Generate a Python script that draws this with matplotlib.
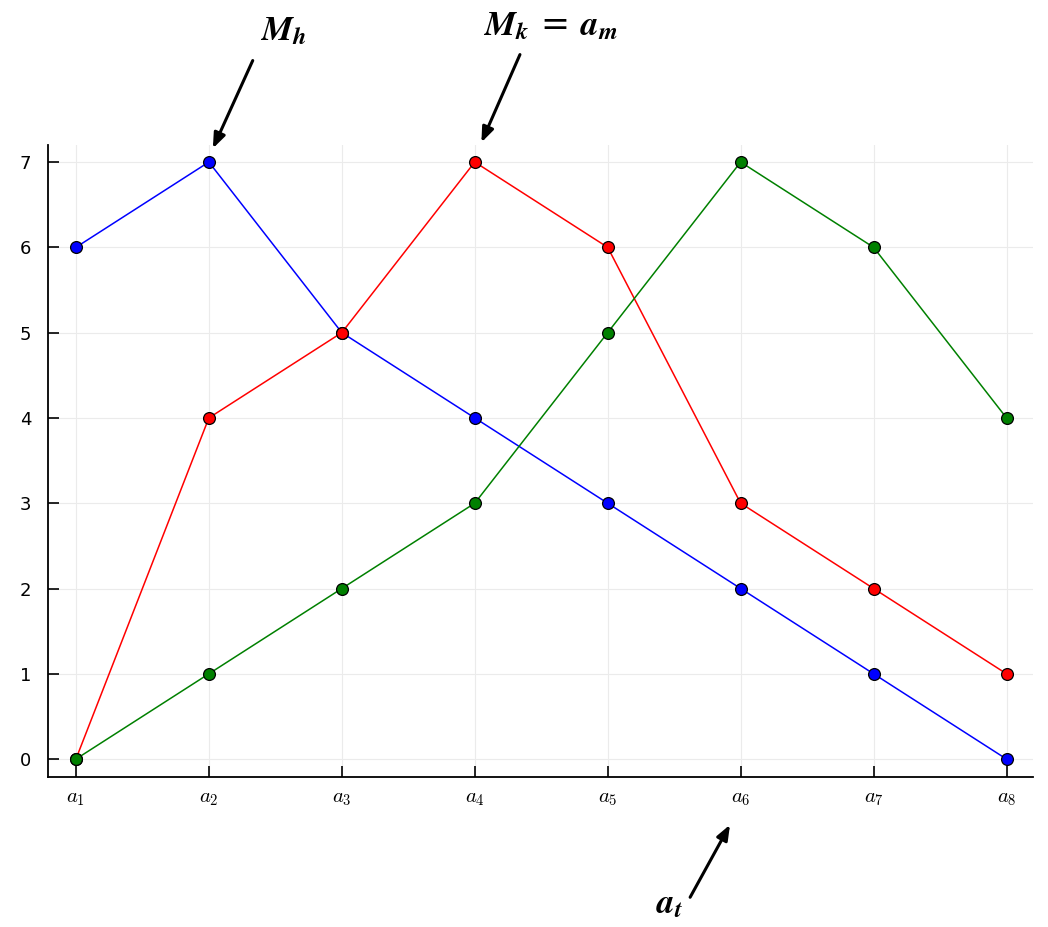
import matplotlib
matplotlib.use("Agg")
import matplotlib.pyplot as plt

labels = [r"$a_{%d}$" % i for i in range(1, 9)]
blue = [6, 7, 5, 4, 3, 2, 1, 0]
red = [0, 4, 5, 7, 6, 3, 2, 1]
green = [0, 1, 2, 3, 5, 7, 6, 4]

x = list(range(1, 9))

fig = plt.figure(figsize=(10.48, 9.27), dpi=100)
ax = fig.add_axes([0.0458, 0.1618, 0.94, 0.6818])

for ys, c in [(blue, "blue"), (red, "red"), (green, "green")]:
    ax.plot(x, ys, color=c, lw=1.1, marker="o", ms=8.5,
            mfc=c, mec="black", mew=0.9)

ax.set_xlim(0.79, 8.2)
ax.set_ylim(-0.21, 7.2)
ax.set_xticks(x)
ax.set_xticklabels(labels, math_fontfamily="cm", fontsize=15)
ax.set_yticks(range(8))
ax.tick_params(axis="y", labelsize=13, pad=12)
ax.tick_params(axis="x", pad=8)
ax.tick_params(direction="in", length=8, width=1.2)
ax.grid(True, color="#ebebeb", lw=0.8)
ax.set_axisbelow(True)
for s in ["top", "right"]:
    ax.spines[s].set_visible(False)
for s in ["left", "bottom"]:
    ax.spines[s].set_linewidth(1.3)

arrow = dict(arrowstyle="-|>,head_length=0.9,head_width=0.35", color="black",
             lw=2.2, shrinkA=0, shrinkB=0)
tfont = dict(fontsize=25, math_fontfamily="stix", ha="center", va="center")

ax.annotate("", xy=(2.03, 7.16), xytext=(2.33, 8.19), arrowprops=arrow, annotation_clip=False)
ax.text(2.56, 8.55, r"$\mathbfit{M_h}$", clip_on=False, **tfont)

ax.annotate("", xy=(4.05, 7.23), xytext=(4.34, 8.26), arrowprops=arrow, annotation_clip=False)
ax.text(4.57, 8.6, r"$\mathbfit{M_k}$ = $\mathbfit{a_m}$", clip_on=False, **tfont)

ax.annotate("", xy=(5.92, -0.77), xytext=(5.62, -1.62), arrowprops=arrow, annotation_clip=False)
ax.text(5.47, -1.69, r"$\mathbfit{a_t}$", clip_on=False, **tfont)

fig.savefig("out.png", dpi=100)
